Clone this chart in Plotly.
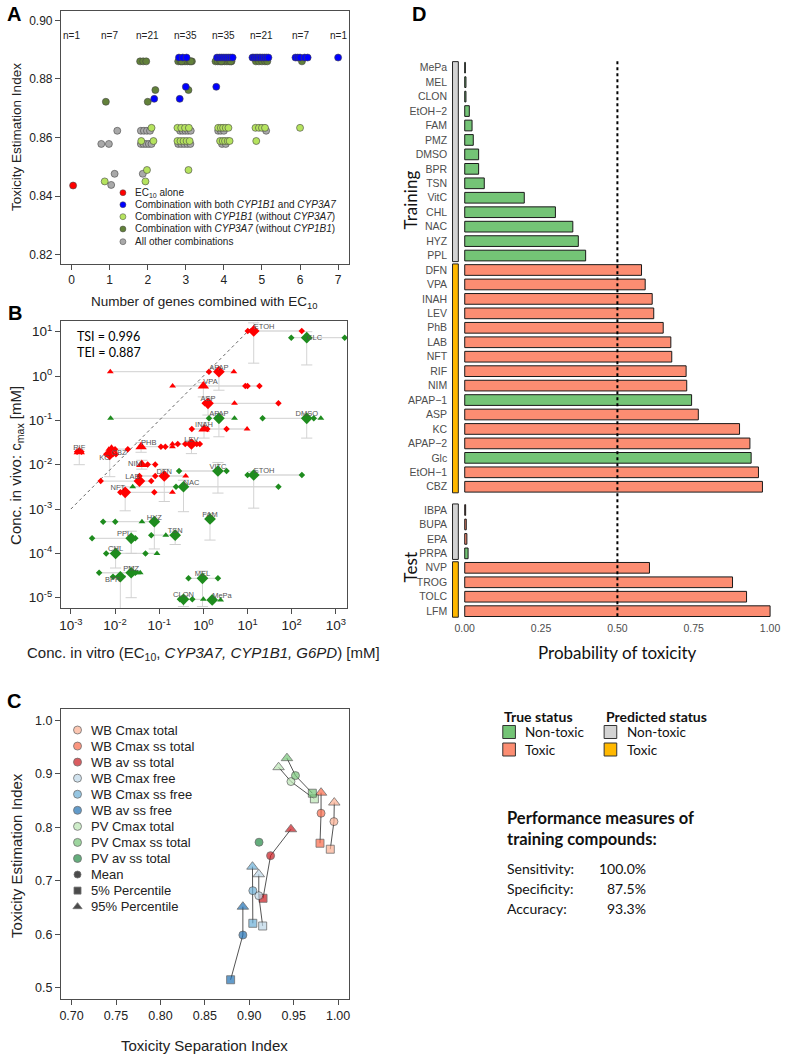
import plotly.graph_objects as go

W, H = 785, 1056
def fx(px): return px / W
def fy(py): return 1 - py / H

# ---------------- Panel A data ----------------
a_n_genes = [0, 1, 2, 3, 4, 5, 6, 7]
a_n_counts = [1, 7, 21, 35, 35, 21, 7, 1]
a_red_x = [0.04]
a_red_y = [0.8436]
a_blue_x = [2.17, 2.82, 2.92, 3.02, 3.00, 2.84,
            3.82, 3.88, 3.93, 3.98, 4.03, 4.08, 4.13, 4.18, 4.23, 3.80,
            4.75, 4.79, 4.84, 4.88, 4.93, 4.97, 5.02, 5.07, 5.12, 5.17,
            5.88, 5.94, 6.00, 6.12, 6.20, 7.00]
a_blue_y = ([0.8732, 0.8873, 0.8873, 0.8873, 0.8773, 0.8732] + [0.8873] * 9 + [0.8773]
            + [0.8873] * 10 + [0.8873] * 5 + [0.8873])
a_lime_x = [0.87, 2.10, 1.83, 2.15, 1.98, 1.94,
            2.78, 2.88, 2.98, 3.08, 2.78, 2.86, 2.94, 3.02, 3.10, 3.07,
            3.85, 3.92, 3.98, 4.05, 4.12, 3.90, 3.97, 4.03, 4.10, 4.15,
            4.83, 4.92, 5.00, 5.08, 4.85, 6.00]
a_lime_y = ([0.845, 0.8633, 0.8588, 0.8588, 0.8489, 0.845] + [0.8633] * 4 + [0.8588] * 5 + [0.8489]
            + [0.8633] * 5 + [0.8588] * 5 + [0.8633] * 4 + [0.8588] + [0.8633])
a_olive_x = [0.90, 1.80, 1.88, 1.96, 2.00, 2.20,
             2.80, 2.86, 2.92, 2.98, 3.04, 3.10, 3.16, 2.89, 3.13, 3.07,
             3.78, 3.84, 3.90, 3.96, 4.02, 4.08, 4.14, 4.20, 3.93, 4.18,
             4.84, 4.92, 5.00, 5.08, 5.14, 6.05]
a_olive_y = ([0.8722, 0.886, 0.886, 0.886, 0.8722, 0.8762] + [0.886] * 9 + [0.8762]
             + [0.886] * 10 + [0.886] * 5 + [0.886])
a_grey_x = [0.78, 0.98, 1.20, 1.04, 1.13,
            1.82, 1.90, 1.98, 2.06, 1.82, 1.89, 1.96, 2.03, 2.10, 1.87,
            2.85, 2.92, 2.99, 3.06, 3.13, 2.80, 2.88, 2.96, 3.04, 3.12,
            3.85, 3.92, 4.00, 3.95, 4.05, 5.11]
a_grey_y = ([0.8578, 0.8578, 0.8623, 0.8438, 0.8476] + [0.8623] * 4 + [0.8578] * 5 + [0.8476]
            + [0.8623] * 5 + [0.8578] * 5 + [0.8623] * 3 + [0.8578] * 2 + [0.8623])
a_legend = ["EC<sub>10</sub> alone",
            "Combination with both <i>CYP1B1</i> and <i>CYP3A7</i>",
            "Combination with <i>CYP1B1</i> (without <i>CYP3A7</i>)",
            "Combination with <i>CYP3A7</i> (without <i>CYP1B1</i>)",
            "All other combinations"]
a_colors = ["#FF0000", "#0000FF", "#B5E35E", "#62813A", "#A9A9A9"]

# ---------------- Panel B data (log10 mM) ----------------
b_names = ["ETOH", "APAP", "VPA", "ASP", "INAH", "LEV", "PHB", "RIF", "KC", "CBZ", "NIM", "DFN", "LAB", "NFT",
           "GLC", "APAP", "DMSO", "VITC", "ETOH", "NAC", "FAM", "HYZ", "TSN", "PPL", "CHL", "PMZ", "BPR", "MEL", "CLON", "MePa"]
b_toxic = [1] * 14 + [0] * 16
b_cx = [1.14, 0.352, 0.0, 0.105, 0.015, -0.27, -1.41, -2.81, -2.12, -2.08, -1.394, -0.885, -1.447, -1.77,
        2.34, 0.352, 2.34, 0.33, 1.14, -0.45, 0.15, -1.11, -0.638, -1.634, -1.987, -1.634, -1.88, -0.02, -0.45, 0.2]
b_cy = [1.016, 0.098, -0.225, -0.615, -1.195, -1.533, -1.594, -1.707, -1.766, -1.65, -1.993, -2.255, -2.37, -2.623,
        0.865, -0.955, -0.955, -2.142, -2.232, -2.497, -3.225, -3.285, -3.59, -3.66, -4.0, -4.437, -4.527, -4.563, -5.036, -5.05]
b_center_tri = [0, 0, 1, 0, 1, 0, 1, 1, 0, 1, 1, 0, 0, 0,
                0, 0, 0, 0, 0, 0, 0, 0, 0, 0, 0, 0, 0, 0, 0, 0]
b_dia = [[1.005, 2.228], [0.127], [0.95, 1.0, 1.27], [0.03, 1.70], [-0.262, 0.09, 0.525], [-0.58, -0.41, -0.15, -0.08],
         [-0.96, -0.86], [-2.86, -2.76], [-2.2, -2.05, -1.98], [-1.71, -2.0], [-1.26, -1.09], [-1.447, -1.09], [-2.325, -1.18], [-1.88, -1.11],
         [1.99, 3.2], [0.127], [1.34, 2.5], [-0.55, 0.525], [1.0, 2.23], [-0.62, 1.70], [0.11, 0.2], [-2.27, -1.995], [-1.18, -0.6],
         [-2.52, -1.54], [-2.2, -1.31], [-2.36, -1.54], [-2.046], [-0.336, 0.33], [-0.53, -0.25], []]
b_tri = [[], [-2.107, 0.69], [-0.696], [0.705], [0.99], [-0.70], [-0.70], [-2.84], [], [-2.14], [-1.42], [-0.4], [], [-0.70],
         [], [-2.1, 0.705], [2.66], [], [], [-1.6], [], [-1.39], [-0.85], [], [-1.05], [-1.58, -1.49, -1.43], [], [], [0.0], [0.39]]
b_err_lo = [0.29, -0.32, -0.47, -0.88, -1.4, -1.75, -1.72, -2.0, -2.27, None, -2.1, -2.83, None, -3.04,
            0.25, -1.37, -1.4, -2.64, -2.98, -3.06, -3.7, -3.9, -3.8, -4.0, -4.33, -5.0, -5.3, -5.2, -5.2, None]
b_err_hi = [1.2, 0.1, -0.15, -0.5, -1.05, -1.45, -1.5, -1.65, -1.75, None, -1.9, -2.1, None, -2.5,
            1.0, -0.85, -0.85, -1.95, -2.15, -2.35, -3.1, -3.2, -3.5, -3.5, -3.85, -4.3, -4.5, -4.4, -4.95, None]
b_label_pos = ["top right", "top center", "top right", "top center", "top center", "top center", "top right",
               "top center", "bottom left", "bottom right", "middle left", "top center", "top left", "top left",
               "middle right", "top center", "top center", "top center", "top right", "top right", "top center",
               "top center", "top center", "top left", "top center", "top center", "bottom left", "top center",
               "top center", "top right"]
b_tsi, b_tei = 0.996, 0.887

# ---------------- Panel C data ----------------
c_series = ["WB Cmax total", "WB Cmax ss total", "WB av ss total", "WB Cmax free", "WB Cmax ss free",
            "WB av ss free", "PV Cmax total", "PV Cmax ss total", "PV av ss total"]
c_colors = ["#FCAE91", "#FB6A4A", "#CB181D", "#BDD7E7", "#6BAED6", "#2171B5", "#BAE4B3", "#74C476", "#238B45"]
c_tsi_p95 = [0.9957, 0.9808, 0.9469, 0.9107, 0.9036, 0.8928, 0.933, 0.9424, None]
c_tei_p95 = [0.8465, 0.865, 0.7966, 0.7124, 0.7266, 0.6517, 0.9127, 0.9296, None]
c_tsi_mean = [0.9953, 0.9808, 0.924, 0.9107, 0.904, 0.8928, 0.9469, 0.952, 0.911]
c_tei_mean = [0.8109, 0.8266, 0.7472, 0.6723, 0.6817, 0.5987, 0.8858, 0.897, 0.7723]
c_tsi_p5 = [0.9912, 0.9796, 0.9155, 0.9151, 0.904, 0.879, 0.9733, 0.971, None]
c_tei_p5 = [0.7592, 0.7704, 0.6674, 0.6156, 0.6206, 0.515, 0.8534, 0.864, None]

# ---------------- Panel D data ----------------
d_train_names = ["MePa", "MEL", "CLON", "EtOH\u22122", "FAM", "PMZ", "DMSO", "BPR", "TSN", "VitC", "CHL", "NAC", "HYZ", "PPL",
                 "DFN", "VPA", "INAH", "LEV", "PhB", "LAB", "NFT", "RIF", "NIM", "APAP\u22121", "ASP", "KC", "APAP\u22122",
                 "Glc", "EtOH\u22121", "CBZ"]
d_train_prob = [0.002, 0.004, 0.004, 0.015, 0.024, 0.028, 0.0455, 0.0455, 0.064, 0.195, 0.297, 0.354, 0.372, 0.396,
                0.579, 0.591, 0.614, 0.619, 0.650, 0.675, 0.678, 0.725, 0.727, 0.743, 0.765, 0.900, 0.934, 0.938, 0.962, 0.975]
d_train_true = [0] * 14 + [1] * 9 + [0] + [1] * 3 + [0] + [1] * 2
d_test_names = ["IBPA", "BUPA", "EPA", "PRPA", "NVP", "TROG", "TOLC", "LFM"]
d_test_prob = [0.003, 0.005, 0.007, 0.011, 0.605, 0.877, 0.923, 1.0]
d_test_true = [1, 1, 1, 0, 1, 1, 1, 1]
d_threshold = 0.5
d_perf = [("Sensitivity:", "100.0%"), ("Specificity:", "87.5%"), ("Accuracy:", "93.3%")]

COL_TOX, COL_NON = "#FC8D72", "#74C476"
COL_PRED_NON, COL_PRED_TOX = "#D3D3D3", "#FFB800"

fig = go.Figure()
FONT = "Liberation Sans"
CAL = "Lato"

# ---------------- Panel A traces ----------------
for xs, ys, col in [(a_grey_x, a_grey_y, a_colors[4]), (a_lime_x, a_lime_y, a_colors[2]),
                    (a_olive_x, a_olive_y, a_colors[3]), (a_blue_x, a_blue_y, a_colors[1]),
                    (a_red_x, a_red_y, a_colors[0])]:
    fig.add_trace(go.Scatter(x=xs, y=ys, mode="markers", xaxis="x", yaxis="y",
                             marker=dict(size=7, color=col, line=dict(color="#444", width=0.6)),
                             showlegend=False))

# ---------------- Panel B traces ----------------
hx, hy, vx, vy, capx, capy = [], [], [], [], [], []
for i in range(len(b_names)):
    allx = [b_cx[i]] + b_dia[i] + b_tri[i]
    hx += [10 ** min(allx), 10 ** max(allx), None]
    hy += [10 ** b_cy[i], 10 ** b_cy[i], None]
    if b_err_lo[i] is not None:
        vx += [10 ** b_cx[i], 10 ** b_cx[i], None]
        vy += [10 ** b_err_lo[i], 10 ** b_err_hi[i], None]
        capx += [10 ** b_cx[i], 10 ** b_cx[i]]
        capy += [10 ** b_err_lo[i], 10 ** b_err_hi[i]]
fig.add_trace(go.Scatter(x=hx, y=hy, mode="lines", xaxis="x2", yaxis="y2",
                         line=dict(color="#D9D9D9", width=1.3), showlegend=False))
fig.add_trace(go.Scatter(x=vx, y=vy, mode="lines", xaxis="x2", yaxis="y2",
                         line=dict(color="#D4D4D4", width=1), showlegend=False))
fig.add_trace(go.Scatter(x=capx, y=capy, mode="markers", xaxis="x2", yaxis="y2",
                         marker=dict(symbol="line-ew", size=8, line=dict(color="#D0D0D0", width=1)),
                         showlegend=False))
fig.add_trace(go.Scatter(x=[1e-3, 10 ** 1.22], y=[1e-3, 10 ** 1.22], mode="lines", xaxis="x2", yaxis="y2",
                         line=dict(color="#666", width=1, dash="dot"), showlegend=False))
for tox, col in [(0, "#1E8C1E"), (1, "#FF0000")]:
    dx, dy, tx, ty, cdx, cdy, ctx, cty = [], [], [], [], [], [], [], []
    for i in range(len(b_names)):
        if b_toxic[i] != tox:
            continue
        for v in b_dia[i]:
            dx.append(10 ** v); dy.append(10 ** b_cy[i])
        for v in b_tri[i]:
            tx.append(10 ** v); ty.append(10 ** b_cy[i])
        if b_center_tri[i]:
            ctx.append(10 ** b_cx[i]); cty.append(10 ** b_cy[i])
        else:
            cdx.append(10 ** b_cx[i]); cdy.append(10 ** b_cy[i])
    fig.add_trace(go.Scatter(x=dx, y=dy, mode="markers", xaxis="x2", yaxis="y2",
                             marker=dict(symbol="diamond", size=5, color=col), showlegend=False))
    fig.add_trace(go.Scatter(x=tx, y=ty, mode="markers", xaxis="x2", yaxis="y2",
                             marker=dict(symbol="triangle-up", size=6, color=col), showlegend=False))
    fig.add_trace(go.Scatter(x=cdx, y=cdy, mode="markers", xaxis="x2", yaxis="y2",
                             marker=dict(symbol="diamond", size=9, color=col), showlegend=False))
    fig.add_trace(go.Scatter(x=ctx, y=cty, mode="markers", xaxis="x2", yaxis="y2",
                             marker=dict(symbol="triangle-up", size=10, color=col), showlegend=False))
fig.add_trace(go.Scatter(x=[10 ** v for v in b_cx], y=[10 ** v for v in b_cy], mode="text",
                         text=b_names, textposition=b_label_pos, xaxis="x2", yaxis="y2",
                         textfont=dict(family=FONT, size=7.5, color="#555"), showlegend=False))

# ---------------- Panel C traces ----------------
for i in range(len(c_series)):
    xs = [c_tsi_p95[i], c_tsi_mean[i], c_tsi_p5[i]]
    ys = [c_tei_p95[i], c_tei_mean[i], c_tei_p5[i]]
    fig.add_trace(go.Scatter(x=xs, y=ys, mode="lines", xaxis="x3", yaxis="y3",
                             line=dict(color="#555", width=1), showlegend=False))
for i in range(len(c_series)):
    xs = [c_tsi_p95[i], c_tsi_mean[i], c_tsi_p5[i]]
    ys = [c_tei_p95[i], c_tei_mean[i], c_tei_p5[i]]
    fig.add_trace(go.Scatter(x=xs, y=ys, mode="markers", xaxis="x3", yaxis="y3",
                             marker=dict(symbol=["triangle-up", "circle", "square"], size=[10, 8, 8],
                                         color=c_colors[i], line=dict(color="#333", width=0.8)),
                             showlegend=False))

# ---------------- Panel D traces ----------------
d_gap = 0.61
d_train_y = list(range(len(d_train_names)))
d_test_y = [len(d_train_names) + d_gap + j for j in range(len(d_test_names))]
all_y = d_train_y + d_test_y
all_prob = d_train_prob + d_test_prob
all_true = d_train_true + d_test_true
all_names = d_train_names + d_test_names
fig.add_trace(go.Bar(y=all_y, x=all_prob, orientation="h", xaxis="x4", yaxis="y4", width=0.74,
                     marker=dict(color=[COL_TOX if t else COL_NON for t in all_true],
                                 line=dict(color="#1a1a1a", width=1)),
                     showlegend=False))

# ---------------- overlay (pixel) axes for legends ----------------
a_leg_y = [192.7, 204.7, 216.7, 229.0, 241.7]
fig.add_trace(go.Scatter(x=[121.7] * 5, y=a_leg_y, mode="markers", xaxis="x5", yaxis="y5",
                         marker=dict(size=6, color=a_colors, line=dict(color="#444", width=0.5)),
                         showlegend=False))
c_leg_y = [730 + 16.06 * k for k in range(12)]
c_leg_sym = ["circle"] * 9 + ["circle", "square", "triangle-up"]
c_leg_col = c_colors + ["#000", "#000", "#000"]
fig.add_trace(go.Scatter(x=[76] * 12, y=c_leg_y, mode="markers", xaxis="x5", yaxis="y5",
                         marker=dict(size=[8] * 9 + [7, 7, 8], symbol=c_leg_sym, color=c_leg_col,
                                     line=dict(color="#333", width=0.8)),
                         showlegend=False))

ann = []
shapes = []
def note(text, x, y, size, family=None, color="#222", xanchor="center", angle=0, align="center", ref="paper"):
    d = dict(text=text, showarrow=False, xanchor=xanchor, yanchor="middle", textangle=angle, align=align,
             font=dict(family=family or FONT, size=size, color=color))
    if ref == "paper":
        d.update(x=fx(x), y=fy(y), xref="paper", yref="paper")
    else:
        d.update(x=x, y=y, xref=ref[0], yref=ref[1])
    ann.append(d)

# panel letters
for t, x, y in [("A", 12, 14), ("B", 13, 313), ("C", 12, 701), ("D", 420, 14)]:
    note("<b>%s</b>" % t, x, y, 20, color="#000")
# Panel A
for g, n in zip(a_n_genes, a_n_counts):
    note("n=%d" % n, g, 0.8949, 10, ref=("x", "y"))
for t, y in zip(a_legend, a_leg_y):
    note(t, 131.7, y, 10, xanchor="left")
note("Number of genes combined with EC<sub>10</sub>", 204, 303, 13.5)
note("Toxicity Estimation Index", 14, 137, 13.5, angle=-90)
# Panel B
note("TSI = %.3f<br>TEI = %.3f" % (b_tsi, b_tei), 73, 345, 12.5, family=CAL, color="#000",
     xanchor="left", align="left")
note("Conc. in vitro (EC<sub>10</sub>, <i>CYP3A7, CYP1B1, G6PD</i>) [mM]", 203, 653, 15)
note("Conc. in vivo: c<sub>max</sub> [mM]", 14, 465, 15, angle=-90)
# Panel C
for t, y in zip(c_series + ["Mean", "5% Percentile", "95% Percentile"], c_leg_y):
    note(t, 88, y, 13, xanchor="left")
note("Toxicity Separation Index", 204, 1045, 15)
note("Toxicity Estimation Index", 14, 855, 15, angle=-90)
# Panel D
note("Probability of toxicity", 619, 652, 17, family=CAL, color="#111")
note("Training", 411, 200, 17, family=CAL, color="#111", angle=-90)
note("Test", 411, 567, 17, family=CAL, color="#111", angle=-90)
note("<b>True status</b>", 503, 716, 14, family=CAL, color="#111", xanchor="left")
note("<b>Predicted status</b>", 606, 716, 14, family=CAL, color="#111", xanchor="left")
for (lx, cols) in [(504, [COL_NON, COL_TOX]), (606, [COL_PRED_NON, COL_PRED_TOX])]:
    for k, (lab, col) in enumerate(zip(["Non-toxic", "Toxic"], cols)):
        yc = 732 + 17.5 * k
        shapes.append(dict(type="rect", xref="paper", yref="paper", x0=fx(lx), x1=fx(lx + 12.7),
                           y0=fy(yc + 6.5), y1=fy(yc - 6.5), fillcolor=col, line=dict(color="#333", width=1)))
        note(lab, lx + 20.5, yc, 13.5, family=CAL, color="#111", xanchor="left")
note("<b>Performance measures of<br>training compounds:</b>", 506, 828, 16.5, family=CAL, color="#111",
     xanchor="left", align="left")
for k, (lab, val) in enumerate(d_perf):
    yc = 868 + 20 * k
    note(lab, 506, yc, 14, family=CAL, color="#111", xanchor="left")
    note(val, 650, yc, 14, family=CAL, color="#111", xanchor="right")

# predicted-status strips (panel D)
def groups(ys, preds):
    out = []
    start = 0
    for k in range(1, len(preds) + 1):
        if k == len(preds) or preds[k] != preds[start]:
            out.append((ys[start], ys[k - 1], preds[start]))
            start = k
    return out
d_train_pred = [1 if p >= d_threshold else 0 for p in d_train_prob]
d_test_pred = [1 if p >= d_threshold else 0 for p in d_test_prob]
for (y0, y1, p) in groups(d_train_y, d_train_pred) + groups(d_test_y, d_test_pred):
    shapes.append(dict(type="rect", xref="x4", yref="y4", x0=-0.040, x1=-0.021, y0=y0 - 0.42, y1=y1 + 0.42,
                       fillcolor=COL_PRED_TOX if p else COL_PRED_NON, line=dict(color="#222", width=1)))
shapes.append(dict(type="line", xref="x4", yref="y4", x0=d_threshold, x1=d_threshold, y0=-0.45, y1=38.1,
                   line=dict(color="#000", width=2, dash="dot")))

rax = dict(showgrid=False, zeroline=False, showline=True, linecolor="#4d4d4d", linewidth=1, mirror=True,
           ticks="outside", ticklen=5, tickcolor="#4d4d4d", tickfont=dict(family=FONT, size=12, color="#222"))

y4_lo = (620 - 67.7) / 14.45
y4_hi = (58 - 67.7) / 14.45
fig.update_layout(
    width=W, height=H, margin=dict(l=0, r=0, t=0, b=0),
    paper_bgcolor="white", plot_bgcolor="rgba(0,0,0,0)", showlegend=False,
    xaxis=dict(rax, domain=[fx(59.3), fx(349)], range=[-0.28, 7.28], tickvals=list(range(8)), anchor="y"),
    yaxis=dict(rax, domain=[fy(264), fy(11)], range=[0.8168, 0.9032],
               tickvals=[0.82, 0.84, 0.86, 0.88, 0.90], ticktext=["0.82", "0.84", "0.86", "0.88", "0.90"], anchor="x"),
    xaxis2=dict(rax, type="log", domain=[fx(59.3), fx(347.7)], range=[-3.225, 3.263],
                tickvals=[10 ** k for k in range(-3, 4)],
                ticktext=["10<sup>%d</sup>" % k for k in range(-3, 4)], anchor="y2",
                tickfont=dict(family=FONT, size=13.5, color="#222")),
    yaxis2=dict(rax, type="log", domain=[fy(608), fy(320.7)], range=[-5.232, 1.248],
                tickvals=[10 ** k for k in range(-5, 2)],
                ticktext=["10<sup>%d</sup>" % k for k in range(-5, 2)], anchor="x2",
                tickfont=dict(family=FONT, size=13.5, color="#222")),
    xaxis3=dict(rax, domain=[fx(59.3), fx(349)], range=[0.688, 1.012],
                tickvals=[0.70, 0.75, 0.80, 0.85, 0.90, 0.95, 1.00],
                ticktext=["0.70", "0.75", "0.80", "0.85", "0.90", "0.95", "1.00"], anchor="y3",
                tickfont=dict(family=FONT, size=12.5, color="#222")),
    yaxis3=dict(rax, domain=[fy(999), fy(709.3)], range=[0.479, 1.021],
                tickvals=[0.5, 0.6, 0.7, 0.8, 0.9, 1.0], ticktext=["0.5", "0.6", "0.7", "0.8", "0.9", "1.0"],
                anchor="x3", tickfont=dict(family=FONT, size=12.5, color="#222")),
    xaxis4=dict(domain=[fx(449), fx(780)], range=[(449 - 465.7) / 307.3, (780 - 465.7) / 307.3],
                showgrid=False, zeroline=False, showline=False, ticks="",
                tickvals=[0, 0.25, 0.5, 0.75, 1.0], ticktext=["0.00", "0.25", "0.50", "0.75", "1.00"],
                tickfont=dict(family=FONT, size=10.5, color="#4D4D4D"), anchor="y4"),
    yaxis4=dict(domain=[fy(620), fy(58)], range=[y4_lo, y4_hi], showgrid=False, zeroline=False,
                showline=False, ticks="", tickvals=all_y, ticktext=all_names,
                tickfont=dict(family=FONT, size=10.5, color="#4D4D4D"), anchor="x4"),
    xaxis5=dict(domain=[0, 1], range=[0, W], visible=False, anchor="y5", fixedrange=True),
    yaxis5=dict(domain=[0, 1], range=[H, 0], visible=False, anchor="x5", fixedrange=True),
    annotations=ann, shapes=shapes,
)
fig.write_html("out.html", config={"displayModeBar": False},
               post_script="document.body.style.margin='0px';document.body.style.overflow='hidden';")
